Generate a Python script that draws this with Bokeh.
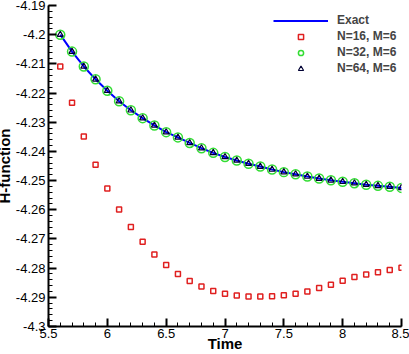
from bokeh.plotting import figure
from bokeh.models import SingleIntervalTicker, CustomJSTickFormatter, Legend, LegendItem, Range1d
from bokeh.embed import file_html
from bokeh.resources import INLINE

time = [5.6, 5.7, 5.8, 5.9, 6.0, 6.1, 6.2, 6.3, 6.4, 6.5,
        6.6, 6.7, 6.8, 6.9, 7.0, 7.1, 7.2, 7.3, 7.4, 7.5,
        7.6, 7.7, 7.8, 7.9, 8.0, 8.1, 8.2, 8.3, 8.4, 8.5]
exact = [-4.2000, -4.2058, -4.2109, -4.2153, -4.2192, -4.2228, -4.2259, -4.2286, -4.2311, -4.2334,
         -4.2352, -4.2371, -4.2389, -4.2405, -4.2419, -4.2431, -4.2442, -4.2452, -4.2462, -4.2471,
         -4.2478, -4.2486, -4.2493, -4.2499, -4.2504, -4.2509, -4.2514, -4.2518, -4.2521, -4.2525]
n16 = [-4.2109, -4.2233, -4.2349, -4.2446, -4.2527, -4.2599, -4.2659, -4.2710, -4.2753, -4.2789,
       -4.2820, -4.2844, -4.2863, -4.2878, -4.2888, -4.2894, -4.2897, -4.2897, -4.2896, -4.2893,
       -4.2888, -4.2880, -4.2868, -4.2857, -4.2843, -4.2830, -4.2822, -4.2814, -4.2806, -4.2799]
n32 = exact
n64 = exact

p = figure(width=417, height=362, output_backend="svg", toolbar_location=None,
           x_range=Range1d(5.5, 8.5), y_range=Range1d(-4.3, -4.19),
           min_border_left=48, min_border_right=8, min_border_top=13, min_border_bottom=28,
           margin=(-8, 0, 0, -8))
p.outline_line_color = None
p.xgrid.visible = False
p.ygrid.visible = False

l_exact = p.line(time, exact, line_color="#0000ff", line_width=2)
r16 = p.scatter(time, n16, marker="square", size=5, line_color="#e02020", fill_color=None, line_width=1.5)
r32 = p.scatter(time, n32, marker="circle", size=9, line_color="#33dd33", fill_color=None, line_width=1.5)
r64 = p.scatter(time, n64, marker="triangle", size=6, line_color="#000033", fill_color=None, line_width=1.2)

fmt = CustomJSTickFormatter(code="return parseFloat(tick.toFixed(4)).toString();")
for ax, interval in ((p.xaxis, 0.5), (p.yaxis, 0.01)):
    ax.ticker = SingleIntervalTicker(interval=interval, num_minor_ticks=5)
    ax.formatter = fmt
    ax.axis_line_width = 2
    ax.axis_line_color = "black"
    ax.major_tick_in = 8
    ax.major_tick_out = 0
    ax.minor_tick_in = 4
    ax.minor_tick_out = 0
    ax.major_tick_line_width = 2
    ax.minor_tick_line_width = 1
    ax.major_label_text_font = "Liberation Sans"
    ax.major_label_text_font_size = "13px"
    ax.major_label_text_color = "black"
    ax.major_label_standoff = 3
    ax.axis_label_text_font = "Liberation Sans"
    ax.axis_label_text_font_size = "15px"
    ax.axis_label_text_font_style = "bold"
    ax.axis_label_text_color = "black"
    ax.axis_label_standoff = 0
p.xaxis.major_label_standoff = 2
p.xaxis.axis_label_standoff = -6
p.xaxis.axis_label = "Time"
p.yaxis.axis_label = "H-function"

legend = Legend(items=[
    LegendItem(label="Exact", renderers=[l_exact]),
    LegendItem(label="N=16, M=6", renderers=[r16]),
    LegendItem(label="N=32, M=6", renderers=[r32]),
    LegendItem(label="N=64, M=6", renderers=[r64]),
], location=(225, 251))
legend.border_line_color = None
legend.background_fill_alpha = 0
legend.label_text_font = "Liberation Sans"
legend.label_text_font_size = "12px"
legend.label_text_font_style = "bold"
legend.glyph_width = 55
legend.glyph_height = 13
legend.label_height = 13
legend.spacing = 2
legend.label_standoff = 9
legend.padding = 5
legend.margin = 0
p.add_layout(legend)

open("out.html", "w").write(file_html(p, INLINE))
